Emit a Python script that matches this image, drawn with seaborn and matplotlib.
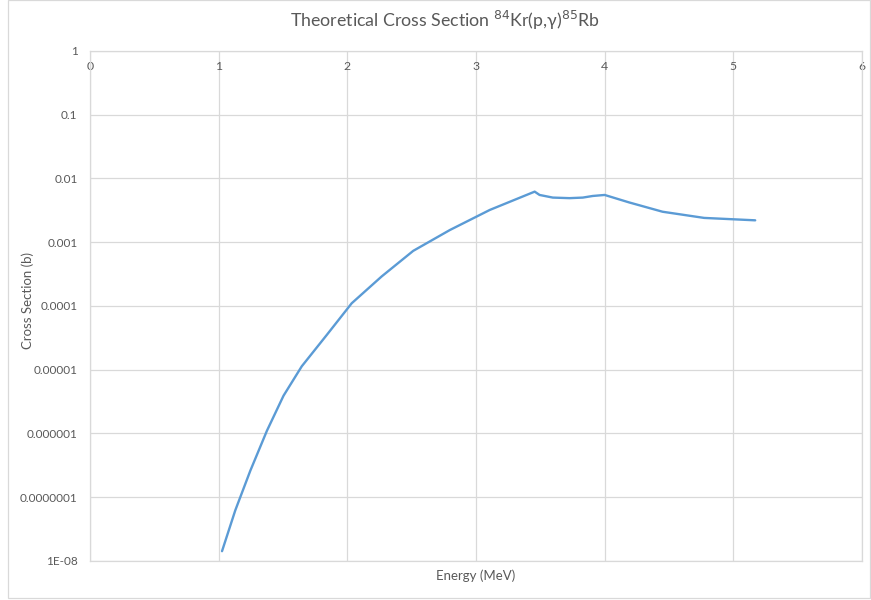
import matplotlib
matplotlib.use("Agg")
import matplotlib.pyplot as plt
from matplotlib.patches import Rectangle
import seaborn as sns
import pandas as pd

energy_mev = [1.026, 1.129, 1.246, 1.375, 1.504, 1.646, 1.84, 2.034, 2.267, 2.512,
              2.797, 3.107, 3.456, 3.494, 3.597, 3.727, 3.83, 3.907, 4.0, 4.19,
              4.45, 4.773, 5.17]
cross_section_b = [1.42e-8, 6.2e-8, 2.6e-7, 1.1e-6, 3.9e-6, 1.13e-5, 3.5e-5, 1.1e-4,
                   2.9e-4, 7.3e-4, 1.55e-3, 3.2e-3, 6.2e-3, 5.5e-3, 5.0e-3, 4.9e-3,
                   5.0e-3, 5.3e-3, 5.5e-3, 4.2e-3, 3.0e-3, 2.4e-3, 2.2e-3]
x_ticks = [0, 1, 2, 3, 4, 5, 6]
y_ticks = [1e-8, 1e-7, 1e-6, 1e-5, 1e-4, 1e-3, 1e-2, 1e-1, 1]
y_tick_labels = ["1E-08", "0.0000001", "0.000001", "0.00001", "0.0001", "0.001",
                 "0.01", "0.1", "1"]

sns.set_theme(style="white")
plt.rcParams['font.family'] = ['Lato', 'DejaVu Sans']

df = pd.DataFrame({"Energy": energy_mev, "Sigma": cross_section_b})

fig = plt.figure(figsize=(8.71, 6.0), dpi=100)
ax = fig.add_axes([90 / 871, 1 - 560.9 / 600, (862 - 90) / 871, 510 / 600])

sns.lineplot(data=df, x="Energy", y="Sigma", ax=ax, sort=False, estimator=None,
             color="#5B9BD5", linewidth=1.7)

ax.set_yscale("log")
ax.set_xlim(0, 6)
ax.set_ylim(1e-8, 1)
ax.set_xticks(x_ticks)
ax.set_xticklabels([str(t) for t in x_ticks])
ax.set_yticks(y_ticks)
ax.set_yticklabels(y_tick_labels)
ax.minorticks_off()

grid_c = "#d9d9d9"
ax.grid(True, color=grid_c, linewidth=0.9)
ax.set_axisbelow(True)
for s in ax.spines.values():
    s.set_color(grid_c)
    s.set_linewidth(0.9)

ax.tick_params(axis="x", bottom=False, labelbottom=False, top=False, labeltop=True,
               length=0, pad=-15, labelsize=8.8, labelcolor="#595959")
ax.tick_params(axis="y", length=0, pad=9, labelsize=8.5, labelcolor="#595959")

ax.set_xlabel("Energy (MeV)", fontsize=9.5, color="#595959", labelpad=6)
ax.set_ylabel("Cross Section (b)", fontsize=9.5, color="#595959", labelpad=6)
ax.yaxis.set_label_coords(-56 / 772, 0.5 + 5 / 510)
ax.xaxis.set_label_position("bottom")

fig.text(445 / 871, 1 - 20 / 600,
         r"Theoretical Cross Section $^{84}$Kr(p,γ)$^{85}$Rb",
         ha="center", va="center", fontsize=12.8, color="#595959")

fig.patches.append(Rectangle((8.3 / 871, 2.3 / 600), (869.5 - 8.3) / 871, 597.7 / 600,
                             transform=fig.transFigure, fill=False,
                             edgecolor="#d9d9d9", linewidth=0.9))

fig.savefig("out.png", dpi=100)
